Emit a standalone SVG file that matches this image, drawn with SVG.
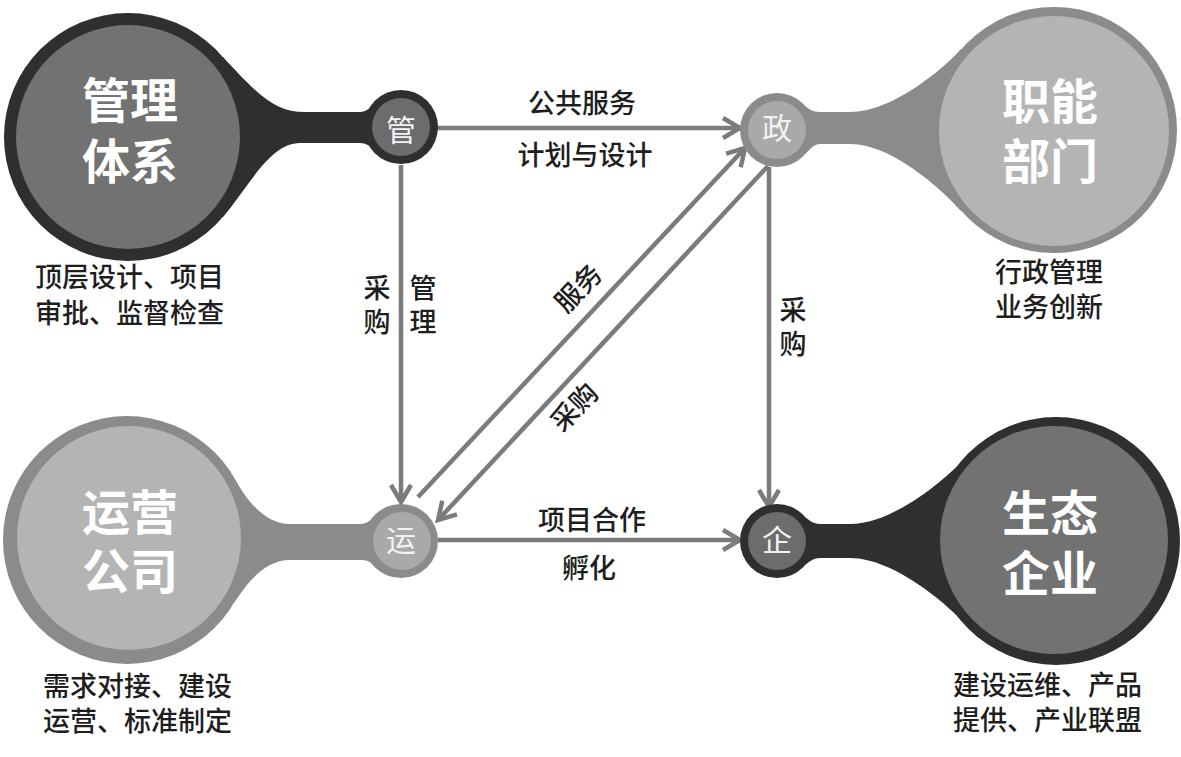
<svg xmlns="http://www.w3.org/2000/svg" width="1181" height="757" viewBox="0 0 1181 757">
  <style>
    .dark-o { fill: #2f2f2f; }
    .dark-i { fill: #727272; }
    .dark-s { fill: #6c6c6c; }
    .light-o { fill: #8b8b8b; }
    .light-i { fill: #b4b4b4; }
    .light-s { fill: #a9a9a9; }
    .big { font-family: "Noto Sans CJK SC", "Noto Sans", sans-serif; font-size: 48px; font-weight: 700; fill: #ffffff; text-anchor: middle; }
    .small { font-family: "Noto Sans CJK SC", "Noto Sans", sans-serif; font-size: 30px; font-weight: 400; fill: #f2f2f2; text-anchor: middle; }
    .desc { font-family: "Noto Sans CJK SC", "Noto Sans", sans-serif; font-size: 27px; font-weight: 500; fill: #1e1e1e; }
    .lbl { font-family: "Noto Sans CJK SC", "Noto Sans", sans-serif; font-size: 27px; font-weight: 500; fill: #1e1e1e; text-anchor: middle; }
    .conn { stroke: #7b7b7b; stroke-width: 4.5; fill: none; marker-end: url(#arrow); }
  </style>
  <defs>
    <marker id="arrow" markerUnits="userSpaceOnUse" markerWidth="26" markerHeight="26" refX="20" refY="12" orient="auto">
      <path d="M3,2 L20,12 L3,22" fill="none" stroke="#7b7b7b" stroke-width="4.5" stroke-linejoin="miter"/>
    </marker>
  </defs>

  <g id="connectors">
    <path class="conn" d="M437,128 L740,128"/>
    <path class="conn" d="M401,165 L401,502"/>
    <path class="conn" d="M769,167 L769,507"/>
    <path class="conn" d="M438,540 L740,540"/>
    <path class="conn" d="M418,497 L745,148"/>
    <path class="conn" d="M768,166 L438,520"/>
  </g>

  <g id="edge-labels">
    <text class="lbl" x="582" y="113">公共服务</text>
    <text class="lbl" x="585" y="165">计划与设计</text>
    <text class="lbl" x="377" y="298">采<tspan x="377" dy="34">购</tspan></text>
    <text class="lbl" x="423" y="298">管<tspan x="423" dy="34">理</tspan></text>
    <text class="lbl" x="0" y="0" transform="translate(578,288) rotate(-46) translate(0,10)">服务</text>
    <text class="lbl" x="0" y="0" transform="translate(574,407) rotate(-46) translate(0,10)">采购</text>
    <text class="lbl" x="793" y="320">采<tspan x="793" dy="34">购</tspan></text>
    <text class="lbl" x="592" y="530">项目合作</text>
    <text class="lbl" x="589" y="578">孵化</text>
  </g>

  <g id="node-guanli">
    <path class="dark-o" d="M223,57 C258,95 275,112 305,112 L360,112 C366,112 370,108 374,104 L401,127 L374,150 C370,146 366,143 360,143 L300,143 C270,143 250,185 223,217 L128,137 Z"/>
    <circle class="dark-o" cx="128" cy="137" r="124"/>
    <circle class="dark-i" cx="128" cy="137" r="112"/>
    <circle class="dark-o" cx="401" cy="127" r="37"/>
    <circle class="dark-s" cx="401" cy="127" r="29"/>
    <text class="big" x="130" y="118">管理<tspan x="130" dy="61">体系</tspan></text>
    <text class="small" x="401" y="141">管</text>
    <text class="desc" x="35" y="287">顶层设计、项目<tspan x="35" dy="36">审批、监督检查</tspan></text>
  </g>

  <g id="node-zhineng">
    <path class="light-o" d="M961,49 C948,64 895,112 850,112 L820,112 C813,112 809,109 805,106 L777,130 L805,154 C809,151 813,144 820,144 L850,144 C895,144 948,196 961,211 L1054,130 Z"/>
    <circle class="light-o" cx="1054" cy="130" r="123"/>
    <circle class="light-i" cx="1054" cy="131" r="115"/>
    <circle class="light-o" cx="777" cy="130" r="37"/>
    <circle class="light-s" cx="777" cy="130" r="29"/>
    <text class="big" x="1050" y="119">职能<tspan x="1050" dy="60">部门</tspan></text>
    <text class="small" x="777" y="139">政</text>
    <text class="desc" x="995" y="282">行政管理<tspan x="995" dy="35">业务创新</tspan></text>
  </g>

  <g id="node-yunying">
    <path class="light-o" d="M234,478 C244,495 262,524 290,524 L360,524 C366,524 370,521 373,517 L401,541 L373,565 C370,561 366,560 360,560 L290,560 C262,560 244,588 234,603 L127,540 Z"/>
    <circle class="light-o" cx="127" cy="540" r="124"/>
    <circle class="light-i" cx="129" cy="538" r="112"/>
    <circle class="light-o" cx="401" cy="541" r="37"/>
    <circle class="light-s" cx="402" cy="541" r="29"/>
    <text class="big" x="130" y="530">运营<tspan x="130" dy="59">公司</tspan></text>
    <text class="small" x="401" y="551">运</text>
    <text class="desc" x="43" y="696">需求对接、建设<tspan x="43" dy="35">运营、标准制定</tspan></text>
  </g>

  <g id="node-shengtai">
    <path class="dark-o" d="M963,460 C950,475 895,524 850,524 L820,524 C813,524 809,520 805,517 L777,541 L805,565 C809,562 813,558 820,558 L850,558 C895,558 950,607 963,622 L1056,541 Z"/>
    <circle class="dark-o" cx="1056" cy="541" r="124"/>
    <circle class="dark-i" cx="1054" cy="540" r="114"/>
    <circle class="dark-o" cx="777" cy="541" r="37"/>
    <circle class="dark-s" cx="777" cy="541" r="29"/>
    <text class="big" x="1050" y="531">生态<tspan x="1050" dy="60">企业</tspan></text>
    <text class="small" x="777" y="551">企</text>
    <text class="desc" x="953" y="695">建设运维、产品<tspan x="953" dy="35">提供、产业联盟</tspan></text>
  </g>
</svg>
